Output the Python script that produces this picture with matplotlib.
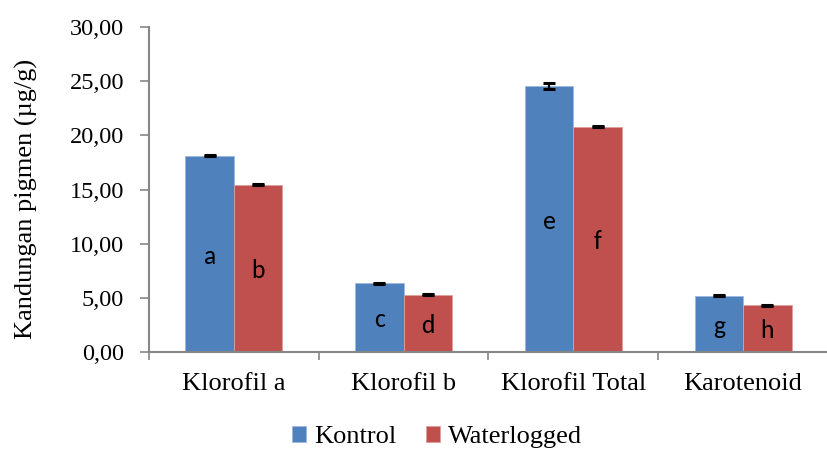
import matplotlib
matplotlib.use("Agg")
import matplotlib.pyplot as plt
import numpy as np
from matplotlib.ticker import FuncFormatter

categories = ["Klorofil a", "Klorofil b", "Klorofil Total", "Karotenoid"]
kontrol = [18.12, 6.34, 24.52, 5.20]
waterlogged = [15.45, 5.30, 20.78, 4.32]
kontrol_err = [0.05, 0.04, 0.28, 0.04]
waterlogged_err = [0.05, 0.04, 0.04, 0.06]
kontrol_letters = ["a", "c", "e", "g"]
waterlogged_letters = ["b", "d", "f", "h"]
series_names = ["Kontrol", "Waterlogged"]

BLUE = "#4F81BD"
RED = "#C0504D"
AXIS = "#868686"
serif = ["Liberation Serif", "DejaVu Serif"]
sans = ["Carlito", "Lato", "DejaVu Sans"]
FS_Y = 17.5
FS = 19

fig = plt.figure(figsize=(8.28, 4.51), dpi=100)
W, H = 828, 451
left, right, top, bottom = 149, 828, 27, 352
ax = fig.add_axes([left / W, 1 - bottom / H, (right - left) / W, (bottom - top) / H])

x = np.arange(len(categories))
bw = 0.285
err_kw = dict(ecolor="black", elinewidth=1.6, capsize=4.3, capthick=2.2)
b1 = ax.bar(x - bw / 2, kontrol, bw, color=BLUE, edgecolor="#9DB9DE", linewidth=0.6,
            yerr=kontrol_err, error_kw=err_kw, label=series_names[0], zorder=2)
b2 = ax.bar(x + bw / 2, waterlogged, bw, color=RED, edgecolor="#DE9E9C", linewidth=0.6,
            yerr=waterlogged_err, error_kw=err_kw, label=series_names[1], zorder=2)

for xi, v, t in zip(x - bw / 2, kontrol, kontrol_letters):
    ax.text(xi, v / 2 - 0.2, t, ha="center", va="center", fontsize=18.5, family=sans, zorder=3)
for xi, v, t in zip(x + bw / 2, waterlogged, waterlogged_letters):
    ax.text(xi, v / 2 - 0.2, t, ha="center", va="center", fontsize=18.5, family=sans, zorder=3)

ax.set_ylim(0, 30)
ax.set_xlim(-0.5, -0.5 + (right - left) / 172)
ax.set_yticks(np.arange(0, 31, 5))
ax.yaxis.set_major_formatter(FuncFormatter(lambda v, p: f"{v:.2f}".replace(".", ",")))
ax.set_xticks(x)
ax.set_xticklabels(categories)
ax.set_xticks(np.arange(-0.5, len(categories) + 0.5, 1), minor=True)
ax.tick_params(axis="x", which="major", length=0, pad=15)
ax.tick_params(axis="x", which="minor", length=6, width=1.2, color=AXIS, direction="out")
ax.tick_params(axis="y", length=6.5, width=1.2, color=AXIS, direction="out", pad=11.5)

for lab in ax.get_xticklabels():
    lab.set_family(serif)
    lab.set_fontsize(FS)
for lab in ax.get_yticklabels():
    lab.set_family(serif)
    lab.set_fontsize(FS_Y)

for s in ["top", "right"]:
    ax.spines[s].set_visible(False)
for s in ["left", "bottom"]:
    ax.spines[s].set_color(AXIS)
    ax.spines[s].set_linewidth(1.5)

ax.set_ylabel("Kandungan pigmen (µg/g)", family=serif, fontsize=FS)
ax.yaxis.set_label_coords(-0.164, 0.47)

leg = fig.legend(handles=[b1, b2], labels=series_names, loc="center",
                 bbox_to_anchor=(437 / W, 1 - 437 / H), ncol=2, frameon=False,
                 prop={"family": serif, "size": FS}, handlelength=0.55, handleheight=0.55,
                 handletextpad=0.3, columnspacing=1.1)

fig.savefig("out.png", dpi=100)
